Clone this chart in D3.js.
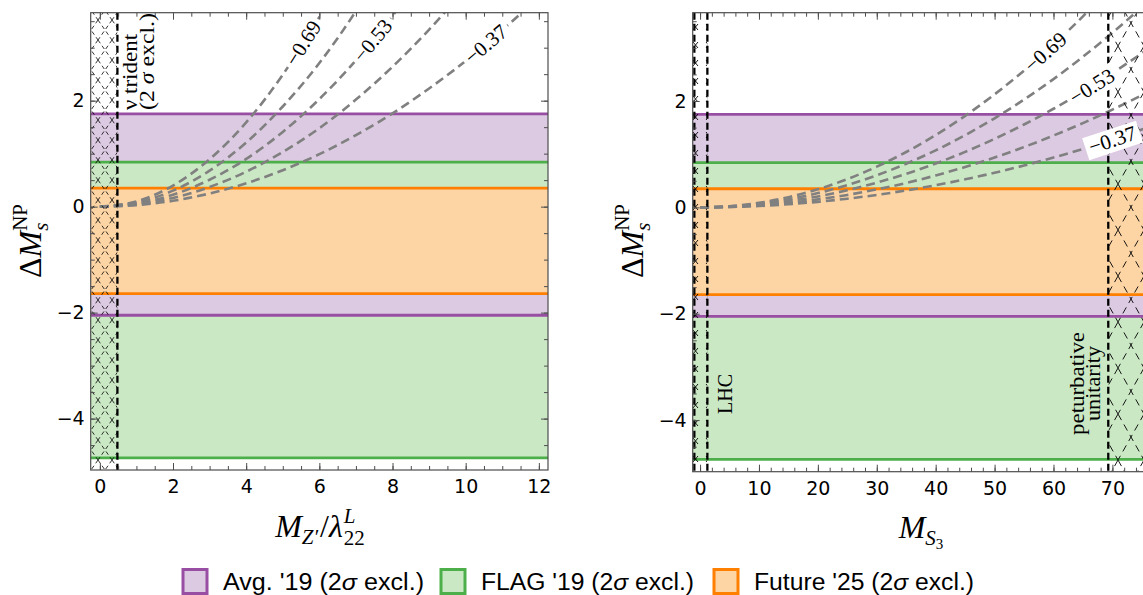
<!DOCTYPE html>
<html><head><meta charset="utf-8">
<script src="https://cdn.jsdelivr.net/npm/d3@7"></script>
<style>body{margin:0;background:#fff}svg{display:block}</style>
</head><body>
<svg id="chart" width="1143" height="595"></svg>
<script>
// ---------------- data ----------------
const bandNames = ["Avg. '19", "FLAG '19", "Future '25"];
const bandLow  = [-2.05, -4.74, -1.64];
const bandHigh = [ 1.75,  0.84,  0.35];
const bandLine = ["#984ea3", "#4daf4a", "#ff7f00"];
const bandFill = ["#dccae2", "#cbe8c5", "#fdd5a5"];

const contourLevels = ["−0.69", "−0.61", "−0.53", "−0.45", "−0.37"];
const labeledContours = [0, 2, 4];

const leftContourX = [0, 1, 2, 3, 4, 5, 6, 7, 8, 9, 10, 11, 12];
const leftContourY = [
  [0, 0.099, 0.398, 0.895, 1.59, 2.49, 3.58, 4.87],
  [0, 0.075, 0.302, 0.679, 1.21, 1.89, 2.71, 3.69, 4.83],
  [0, 0.056, 0.225, 0.507, 0.90, 1.41, 2.03, 2.76, 3.60, 4.56],
  [0, 0.041, 0.165, 0.371, 0.659, 1.03, 1.48, 2.02, 2.64, 3.34, 4.12],
  [0, 0.028, 0.110, 0.248, 0.44, 0.688, 0.99, 1.35, 1.76, 2.23, 2.75, 3.33, 3.96]
];
const leftLabelX = [5.55, 7.45, 10.55];

const rightContourX = [0, 5, 10, 15, 20, 25, 30, 35, 40, 45, 50, 55, 60, 65, 70, 75, 80];
const rightContourY = [
  [0, 0.021, 0.085, 0.191, 0.34, 0.531, 0.765, 1.041, 1.36, 1.721, 2.125, 2.571, 3.06, 3.591, 4.165],
  [0, 0.017, 0.067, 0.151, 0.268, 0.419, 0.603, 0.821, 1.072, 1.357, 1.675, 2.027, 2.412, 2.831, 3.283, 3.769, 4.288],
  [0, 0.013, 0.052, 0.116, 0.206, 0.322, 0.464, 0.631, 0.824, 1.043, 1.288, 1.558, 1.854, 2.176, 2.524, 2.897, 3.296],
  [0, 0.009, 0.038, 0.084, 0.150, 0.234, 0.338, 0.459, 0.600, 0.759, 0.938, 1.134, 1.350, 1.584, 1.838, 2.109, 2.400],
  [0, 0.007, 0.026, 0.059, 0.104, 0.163, 0.234, 0.319, 0.416, 0.527, 0.650, 0.787, 0.936, 1.099, 1.274, 1.463, 1.664]
];
const rightLabelX = [58.6, 66.5, 70.0];

const leftXTicks  = [0, 2, 4, 6, 8, 10, 12];
const rightXTicks = [0, 10, 20, 30, 40, 50, 60, 70];
const yTicks = [-4, -2, 0, 2];

const tridentBound = 0.48;          // nu trident exclusion (left panel)
const lhcBounds = [-0.97, 1.24];    // LHC exclusion (right panel)
const unitarityBound = 69.3;        // perturbative unitarity (right panel)

// ---------------- setup ----------------
const svg = d3.select("#chart");
const defs = svg.append("defs");
const SERIF = "'Liberation Serif','Times New Roman',serif";
const FRAME = "#4d4d4d";

function hatch(id, w, h, lines, dash, sw) {
  const p = defs.append("pattern").attr("id", id).attr("patternUnits", "userSpaceOnUse")
    .attr("width", w).attr("height", h);
  lines.forEach(l => {
    const ln = p.append("line").attr("x1", l[0]).attr("y1", l[1]).attr("x2", l[2]).attr("y2", l[3])
      .attr("stroke", "#000").attr("stroke-width", sw);
    if (dash) ln.attr("stroke-dasharray", dash);
  });
}
hatch("hA", 14, 20, [[0,0,14,20],[14,0,0,20]], "4,3", 0.8);
hatch("hB", 13, 18, [[4,6,9,12],[9,6,4,12]], null, 0.9);
hatch("hC", 26, 46, [[0,0,26,46],[26,0,0,46]], "7,5", 0.9);

function mathLabel(parent, parts, x, y, rot) {
  const g = parent.append("g").attr("transform", `translate(${x},${y})` + (rot ? ` rotate(${rot})` : ""));
  let cursor = 0, prevStart = 0;
  parts.forEach(p => {
    const start = p.stack ? prevStart : cursor;
    const t = g.append("text").attr("x", start).attr("y", p.dy || 0)
      .attr("font-family", SERIF).attr("font-size", p.size)
      .attr("font-style", p.italic ? "italic" : "normal").attr("fill", "#000").text(p.t);
    const w = t.node().getComputedTextLength();
    cursor = p.stack ? Math.max(cursor, start + w) : start + w + (p.kern || 0);
    prevStart = start;
  });
  const half = cursor / 2;
  g.selectAll("text").attr("x", function () { return +d3.select(this).attr("x") - half; });
  return g;
}

function interp(xs, ys, x) {
  for (let i = 0; i < ys.length - 1; i++) {
    if (x >= xs[i] && x <= xs[i + 1]) {
      const t = (x - xs[i]) / (xs[i + 1] - xs[i]);
      return ys[i] + t * (ys[i + 1] - ys[i]);
    }
  }
  return ys[ys.length - 1];
}

function drawPanel(cfg) {
  const x = d3.scaleLinear().domain(cfg.xdom).range([cfg.x0, cfg.x1]);
  const y = d3.scaleLinear().domain(cfg.ydom).range([cfg.y1, cfg.y0]);
  const W = cfg.x1 - cfg.x0, H = cfg.y1 - cfg.y0;
  defs.append("clipPath").attr("id", "clip" + cfg.id)
    .append("rect").attr("x", cfg.x0).attr("y", cfg.y0).attr("width", W).attr("height", H);
  const g = svg.append("g").attr("clip-path", `url(#clip${cfg.id})`);

  // band fills: each boundary filled to the axis, outermost first
  const idx = d3.range(bandNames.length);
  const up = idx.slice().sort((a, b) => bandHigh[b] - bandHigh[a]);
  const dn = idx.slice().sort((a, b) => bandLow[a] - bandLow[b]);
  const y0r = Math.round(y(0));
  const fills = g.append("g").attr("shape-rendering", "crispEdges");
  up.forEach(i => {
    const top = Math.round(y(bandHigh[i]));
    fills.append("rect").attr("x", cfg.x0).attr("width", W)
      .attr("y", top).attr("height", y0r - top).attr("fill", bandFill[i]);
  });
  dn.forEach(i => {
    const bot = Math.round(y(bandLow[i]));
    fills.append("rect").attr("x", cfg.x0).attr("width", W)
      .attr("y", y0r).attr("height", bot - y0r).attr("fill", bandFill[i]);
  });
  idx.forEach(i => {
    [bandHigh[i], bandLow[i]].forEach(v => g.append("line")
      .attr("x1", cfg.x0).attr("x2", cfg.x1).attr("y1", y(v)).attr("y2", y(v))
      .attr("stroke", bandLine[i]).attr("stroke-width", 2.8));
  });

  // contour lines
  const line = d3.line().x(d => x(d[0])).y(d => y(d[1])).curve(d3.curveMonotoneX);
  cfg.cy.forEach(vals => {
    const pts = vals.map((v, j) => [cfg.cx[j], v]);
    g.append("path").attr("d", line(pts)).attr("fill", "none")
      .attr("stroke", "#808080").attr("stroke-width", 2.6).attr("stroke-dasharray", "9,5");
  });

  // exclusion hatches
  cfg.hatches.forEach(h => {
    g.append("rect").attr("x", x(h[0])).attr("width", x(h[1]) - x(h[0]))
      .attr("y", cfg.y0).attr("height", H).attr("fill", `url(#${h[2]})`);
  });
  cfg.vlines.forEach(v => g.append("line").attr("x1", x(v)).attr("x2", x(v))
    .attr("y1", cfg.y0).attr("y2", cfg.y1).attr("stroke", "#000")
    .attr("stroke-width", 2.3).attr("stroke-dasharray", "7,4"));

  // contour labels
  labeledContours.forEach((ci, k) => {
    const lx = cfg.labelX[k];
    const vals = cfg.cy[ci];
    const xs = cfg.cx.slice(0, vals.length);
    const px = x(lx), py = y(interp(xs, vals, lx));
    const d = cfg.delta;
    const dx = x(lx + d) - x(lx - d);
    const dy = y(interp(xs, vals, lx + d)) - y(interp(xs, vals, lx - d));
    const ang = Math.atan2(dy, dx) * 180 / Math.PI;
    const lg = g.append("g").attr("transform", `translate(${px},${py}) rotate(${ang})`);
    const t = lg.append("text").attr("text-anchor", "middle").attr("dy", "0.35em")
      .attr("font-family", SERIF).attr("font-size", 21).text(contourLevels[ci]);
    const bb = t.node().getBBox();
    lg.insert("rect", "text").attr("x", bb.x - 4).attr("y", bb.y + 1)
      .attr("width", bb.width + 8).attr("height", bb.height - 1).attr("fill", "#fff");
  });

  // axes (inward ticks)
  const ax = svg.append("g");
  const fmt = d3.format("d");
  const styleTicks = sel => { sel.select(".domain").remove(); sel.selectAll("line").attr("stroke", FRAME); };
  const xm = d3.range(Math.ceil(cfg.xdom[0] / cfg.xMinor) * cfg.xMinor, cfg.xdom[1], cfg.xMinor);
  const ym = d3.range(Math.ceil(cfg.ydom[0] / 0.5) * 0.5, cfg.ydom[1], 0.5);
  const labelStyle = sel => sel.selectAll("text").attr("font-family", "'DejaVu Sans',sans-serif")
    .attr("font-size", 19).attr("fill", "#000");

  ax.append("g").attr("transform", `translate(0,${cfg.y1})`)
    .call(d3.axisBottom(x).tickValues(xm).tickSize(-4).tickFormat("")).call(styleTicks);
  ax.append("g").attr("transform", `translate(0,${cfg.y1})`)
    .call(d3.axisBottom(x).tickValues(cfg.xTicks).tickSize(-7).tickSizeOuter(0).tickPadding(10).tickFormat(fmt))
    .call(styleTicks).call(labelStyle);
  ax.append("g").attr("transform", `translate(0,${cfg.y0})`)
    .call(d3.axisTop(x).tickValues(xm).tickSize(-4).tickFormat("")).call(styleTicks);
  ax.append("g").attr("transform", `translate(0,${cfg.y0})`)
    .call(d3.axisTop(x).tickValues(cfg.xTicks).tickSize(-7).tickFormat("")).call(styleTicks);
  ax.append("g").attr("transform", `translate(${cfg.x0},0)`)
    .call(d3.axisLeft(y).tickValues(ym).tickSize(-4).tickFormat("")).call(styleTicks);
  ax.append("g").attr("transform", `translate(${cfg.x0},0)`)
    .call(d3.axisLeft(y).tickValues(yTicks).tickSize(-7).tickPadding(6).tickFormat(fmt))
    .call(styleTicks).call(labelStyle);
  ax.append("g").attr("transform", `translate(${cfg.x1},0)`)
    .call(d3.axisRight(y).tickValues(ym).tickSize(-4).tickFormat("")).call(styleTicks);
  ax.append("g").attr("transform", `translate(${cfg.x1},0)`)
    .call(d3.axisRight(y).tickValues(yTicks).tickSize(-7).tickFormat("")).call(styleTicks);

  svg.append("rect").attr("x", cfg.x0).attr("y", cfg.y0).attr("width", W).attr("height", H)
    .attr("fill", "none").attr("stroke", FRAME).attr("stroke-width", 1.2);

  // y title
  mathLabel(svg, [
    { t: "Δ", size: 32 },
    { t: "M", size: 32, italic: true },
    { t: "s", size: 21, italic: true, dy: 7 },
    { t: "NP", size: 21, dy: -14, stack: true }
  ], cfg.x0 - 50, 241, -90);
  return { x, y };
}

// ---------------- left panel ----------------
drawPanel({
  id: "L", x0: 90.7, x1: 548, y0: 12.7, y1: 470,
  xdom: [-0.25, 12.25], ydom: [-4.97, 3.66], xTicks: leftXTicks, xMinor: 0.5,
  cx: leftContourX, cy: leftContourY, labelX: leftLabelX, delta: 0.3,
  hatches: [[-0.25, tridentBound, "hA"]], vlines: [tridentBound]
});
mathLabel(svg, [
  { t: "M", size: 32, italic: true },
  { t: "Z′", size: 21, italic: true, dy: 7, kern: 2 },
  { t: "/", size: 32 },
  { t: "λ", size: 32, italic: true, kern: 1 },
  { t: "L", size: 21, italic: true, dy: -14 },
  { t: "22", size: 21, dy: 8, stack: true }
], 320, 537);
{
  const g = svg.append("g").attr("transform", "translate(137,110) rotate(-90)")
    .attr("font-family", SERIF).attr("font-size", 20).attr("fill", "#000");
  g.append("text").attr("x", 0).attr("y", 0).attr("textLength", 76)
    .attr("lengthAdjust", "spacingAndGlyphs").text("ν trident");
  const t2 = g.append("text").attr("x", 0).attr("y", 17).attr("textLength", 97).attr("lengthAdjust", "spacingAndGlyphs");
  t2.append("tspan").text("(2 ");
  t2.append("tspan").attr("font-style", "italic").text("σ");
  t2.append("tspan").text(" excl.)");
}

// ---------------- right panel ----------------
drawPanel({
  id: "R", x0: 692.7, x1: 1171.3, y0: 12.7, y1: 471.7,
  xdom: [-1.25, 80], ydom: [-4.97, 3.66], xTicks: rightXTicks, xMinor: 2,
  cx: rightContourX, cy: rightContourY, labelX: rightLabelX, delta: 1.5,
  hatches: [[-1.25, lhcBounds[1], "hB"], [unitarityBound, 80, "hC"]],
  vlines: [lhcBounds[0], lhcBounds[1], unitarityBound]
});
mathLabel(svg, [
  { t: "M", size: 32, italic: true },
  { t: "S", size: 21, italic: true, dy: 7 },
  { t: "3", size: 15, dy: 11 }
], 921, 538);
{
  const g = svg.append("g").attr("transform", "translate(732,394) rotate(-90)")
    .attr("font-family", SERIF).attr("font-size", 20).attr("fill", "#000");
  g.append("text").attr("text-anchor", "middle").text("LHC");
  const g2 = svg.append("g").attr("transform", "translate(1084,383.5) rotate(-90)")
    .attr("font-family", SERIF).attr("font-size", 20).attr("fill", "#000");
  g2.append("text").attr("text-anchor", "middle").attr("textLength", 103)
    .attr("lengthAdjust", "spacingAndGlyphs").text("peturbative");
  g2.append("text").attr("text-anchor", "middle").attr("y", 16).attr("textLength", 75)
    .attr("lengthAdjust", "spacingAndGlyphs").text("unitarity");
}

// ---------------- legend ----------------
const legBoxX = [183, 441, 714];
const legTextW = [201, 213, 220];
bandNames.forEach((n, i) => {
  svg.append("rect").attr("x", legBoxX[i]).attr("y", 569.5).attr("width", 24).attr("height", 24)
    .attr("fill", bandFill[i]).attr("stroke", bandLine[i]).attr("stroke-width", 3);
  const t = svg.append("text").attr("x", legBoxX[i] + 40).attr("y", 590)
    .attr("font-family", "'Liberation Sans',Arial,sans-serif").attr("font-size", 23).attr("fill", "#000")
    .attr("textLength", legTextW[i]).attr("lengthAdjust", "spacingAndGlyphs");
  t.append("tspan").text(n + " (2");
  t.append("tspan").attr("font-style", "italic").text("σ");
  t.append("tspan").text(" excl.)");
});
</script>
</body></html>
